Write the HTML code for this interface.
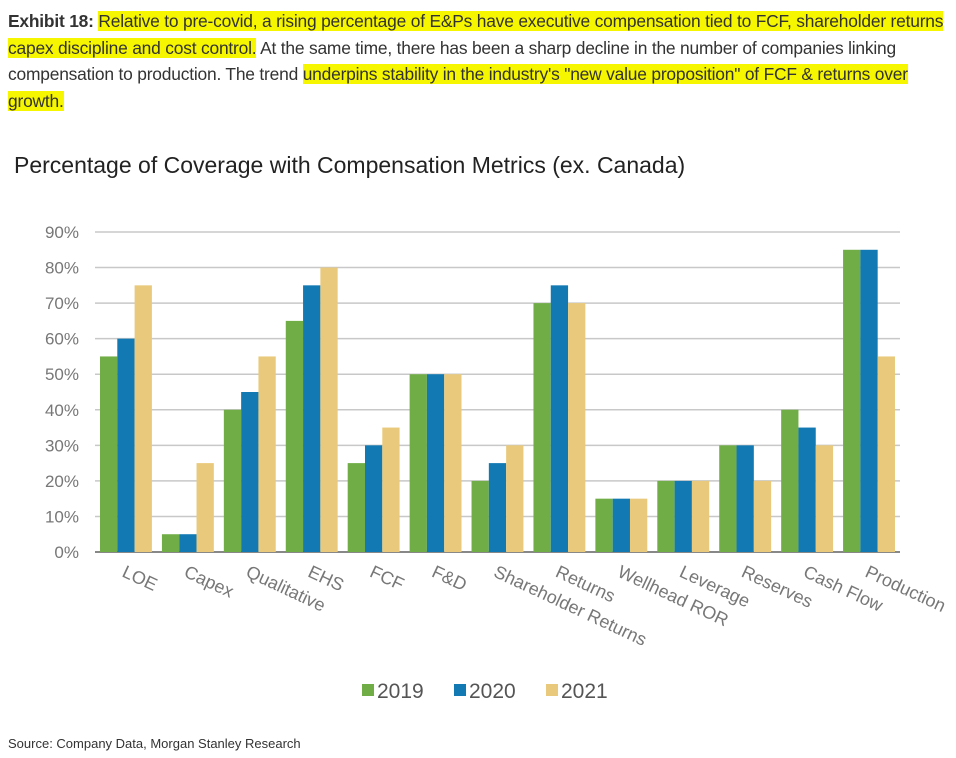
<!DOCTYPE html>
<html><head><meta charset="utf-8">
<style>
body{margin:0;background:#fff;width:956px;height:758px;overflow:hidden;font-family:"Liberation Sans",sans-serif;}
#hdr{position:absolute;left:8px;top:8px;width:950px;font-size:17.4px;line-height:26.5px;color:#333;letter-spacing:-0.2px;white-space:nowrap;}
.hl{background:#f6f600;}
#src{position:absolute;left:8px;top:736px;font-size:13px;color:#333;}
</style></head><body>
<div id="hdr"><b>Exhibit 18:</b> <span class="hl">Relative to pre-covid, a rising percentage of E&amp;Ps have executive compensation tied to FCF, shareholder returns</span><br><span class="hl">capex discipline and cost control.</span> At the same time, there has been a sharp decline in the number of companies linking<br>compensation to production. The trend <span class="hl">underpins stability in the industry's "new value proposition" of FCF &amp; returns over</span><br><span class="hl">growth.</span></div>
<svg id="chart" width="956" height="758" style="position:absolute;left:0;top:0">
<text x="14" y="173" font-size="23" fill="#222">Percentage of Coverage with Compensation Metrics (ex. Canada)</text>
<g id="grid"></g><g id="bars"></g><g id="xl"></g><g id="leg"></g>
</svg>
<div id="src">Source: Company Data, Morgan Stanley Research</div>
<script>
const categories=["LOE","Capex","Qualitative","EHS","FCF","F&D","Shareholder Returns","Returns","Wellhead ROR","Leverage","Reserves","Cash Flow","Production"];
const s2019=[55,5,40,65,25,50,20,70,15,20,30,40,85];
const s2020=[60,5,45,75,30,50,25,75,15,20,30,35,85];
const s2021=[75,25,55,80,35,50,30,70,15,20,20,30,55];
const seriesNames=["2019","2020","2021"];
const yTicks=[0,10,20,30,40,50,60,70,80,90];
const colors=["#70ad47","#1279b3","#e9ca7c"];
const NS="http://www.w3.org/2000/svg";
const x0=95,x1=900,y0=552,y90=232;
const step=(x1-x0)/categories.length;
const y=v=>y0-(v/90)*(y0-y90);
const gx=i=>x0+i*step;
function mk(t,a,p){const e=document.createElementNS(NS,t);for(const k in a)e.setAttribute(k,a[k]);p.appendChild(e);return e;}
const grid=document.getElementById('grid');
yTicks.forEach(t=>{
 if(t>0){const l=mk('line',{x1:x0,x2:x1,y1:y(t),y2:y(t),stroke:'#c8c8c8','stroke-width':1.5},grid);
 
 }
 const tx=mk('text',{x:79,y:y(t)+6,'font-size':17,fill:'#777','text-anchor':'end'},grid);tx.textContent=t+'%';
 
 
});
const ax=mk('line',{x1:x0,x2:x1,y1:y0,y2:y0,stroke:'#888','stroke-width':2},grid);


const bars=document.getElementById('bars');
const series=[s2019,s2020,s2021];
const bw=17.3;
categories.forEach((c,i)=>{
 series.forEach((s,j)=>{
  const r=mk('rect',{x:gx(i)+5+j*bw,y:y(s[i]),width:bw,height:y0-y(s[i]),fill:colors[j]},bars);
  
  
 });
 const cx=gx(i)+step/2;
 const t=mk('text',{x:cx-5,y:y0+24,'font-size':18,fill:'#777',transform:`rotate(25 ${cx-5} ${y0+24})`},document.getElementById('xl'));
 t.textContent=c;
 
 
});
const leg=document.getElementById('leg');
seriesNames.forEach((n,j)=>{
 const lx=362+j*92;
 const g=mk('g',{},leg);
 
 
 mk('rect',{x:lx,y:684,width:12,height:12,fill:colors[j]},g);
 const t=mk('text',{x:lx+15,y:698,'font-size':21,fill:'#555'},g);t.textContent=n;
});
</script>
</body></html>
